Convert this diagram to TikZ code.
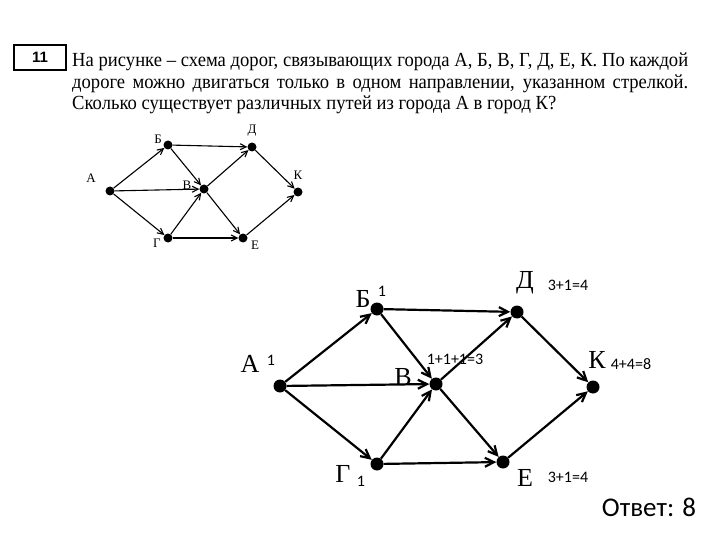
\documentclass[tikz,border=0pt]{standalone}
\usepackage{fontspec}
\setmainfont{Liberation Serif}
\newfontfamily\calfont{Carlito}
\newfontfamily\arialfont{Liberation Sans}
\newfontfamily\narrowserif[FakeStretch=0.93]{Liberation Serif}
\usetikzlibrary{arrows.meta}
\begin{document}
\begin{tikzpicture}[x=1pt,y=-1pt,
 bdot/.style={circle,fill=black,inner sep=0pt,minimum size=13pt},
 sdot/.style={circle,fill=black,inner sep=0pt,minimum size=9pt},
 bedge/.style={line width=2.2pt,-{Straight Barb[length=9pt,width=9pt]}},
 sedge/.style={line width=1.1pt,-{Straight Barb[length=6pt,width=6pt]}},
 blab/.style={font=\fontsize{26}{26}\selectfont,inner sep=0pt},
 slab/.style={font=\fontsize{13}{13}\selectfont,inner sep=0pt},
 num/.style={font=\calfont\fontsize{16}{16}\selectfont,inner sep=0pt},
 txt/.style={anchor=base west,inner sep=0pt,font=\narrowserif\fontsize{20}{20}\selectfont},
]
\useasboundingbox (0,0) rectangle (720,540);
% header
\node[draw,line width=1.2pt,minimum width=52pt,minimum height=25pt,inner sep=0pt,font=\arialfont\bfseries\fontsize{15}{15}\selectfont] (num11) at (40,57.5) {11};
\node[txt] (l1) at (72,67) {\makebox[616pt][s]{На рисунке – схема дорог, связывающих города А, Б, В, Г, Д, Е, К. По каждой}};
\node[txt] (l2) at (72,89) {\makebox[616pt][s]{дороге можно двигаться только в одном направлении, указанном стрелкой.}};
\node[txt] (l3) at (72,110) {Сколько существует различных путей из города А в город К?};
% small graph
\node[sdot] (sA) at (110,191) {};
\node[sdot] (sB) at (168,145) {};
\node[sdot] (sD) at (252,147) {};
\node[sdot] (sV) at (204,189) {};
\node[sdot] (sK) at (298,192) {};
\node[sdot] (sG) at (168,238) {};
\node[sdot] (sE) at (243,238) {};
\node[slab] (lsA) at (91,178) {А};
\node[slab] (lsB) at (158,139) {Б};
\node[slab] (lsD) at (252,131) {Д};
\node[slab] (lsV) at (187,185) {В};
\node[slab] (lsK) at (298,175) {К};
\node[slab] (lsG) at (157,243) {Г};
\node[slab] (lsE) at (255,245) {Е};
\foreach \a/\b in {sA/sB,sA/sV,sA/sG,sB/sD,sB/sV,sG/sV,sG/sE,sV/sD,sV/sE,sD/sK,sE/sK}
  \draw[sedge] (\a) -- (\b);
% big graph
\node[bdot] (A) at (280,386) {};
\node[bdot] (B) at (377,309) {};
\node[bdot] (D) at (517,312) {};
\node[bdot] (V) at (436,384) {};
\node[bdot] (K) at (593,387) {};
\node[bdot] (G) at (377,464) {};
\node[bdot] (E) at (503,462) {};
\node[blab] (lA) at (250,364) {А};
\node[blab] (lB) at (363,299) {Б};
\node[blab] (lD) at (525,283) {Д};
\node[blab] (lV) at (403,377) {В};
\node[blab] (lK) at (597,360) {К};
\node[blab] (lG) at (343,474) {Г};
\node[blab] (lE) at (525,478) {Е};
\node[num] (nA) at (271,360) {1};
\node[num] (nB) at (382,291) {1};
\node[num] (nG) at (361,481) {1};
\node[num] (nV) at (455,359) {1+1+1=3};
\node[num] (nD) at (568,285) {3+1=4};
\node[num] (nE) at (568,477) {3+1=4};
\node[num] (nK) at (631,364) {4+4=8};
\foreach \a/\b in {A/B,A/V,A/G,B/D,B/V,G/V,G/E,V/D,V/E,D/K,E/K}
  \draw[bedge] (\a) -- (\b);
\node[inner sep=0pt,font=\calfont\fontsize{27}{27}\selectfont] (ans) at (649,507) {Ответ: 8};
\end{tikzpicture}
\end{document}
